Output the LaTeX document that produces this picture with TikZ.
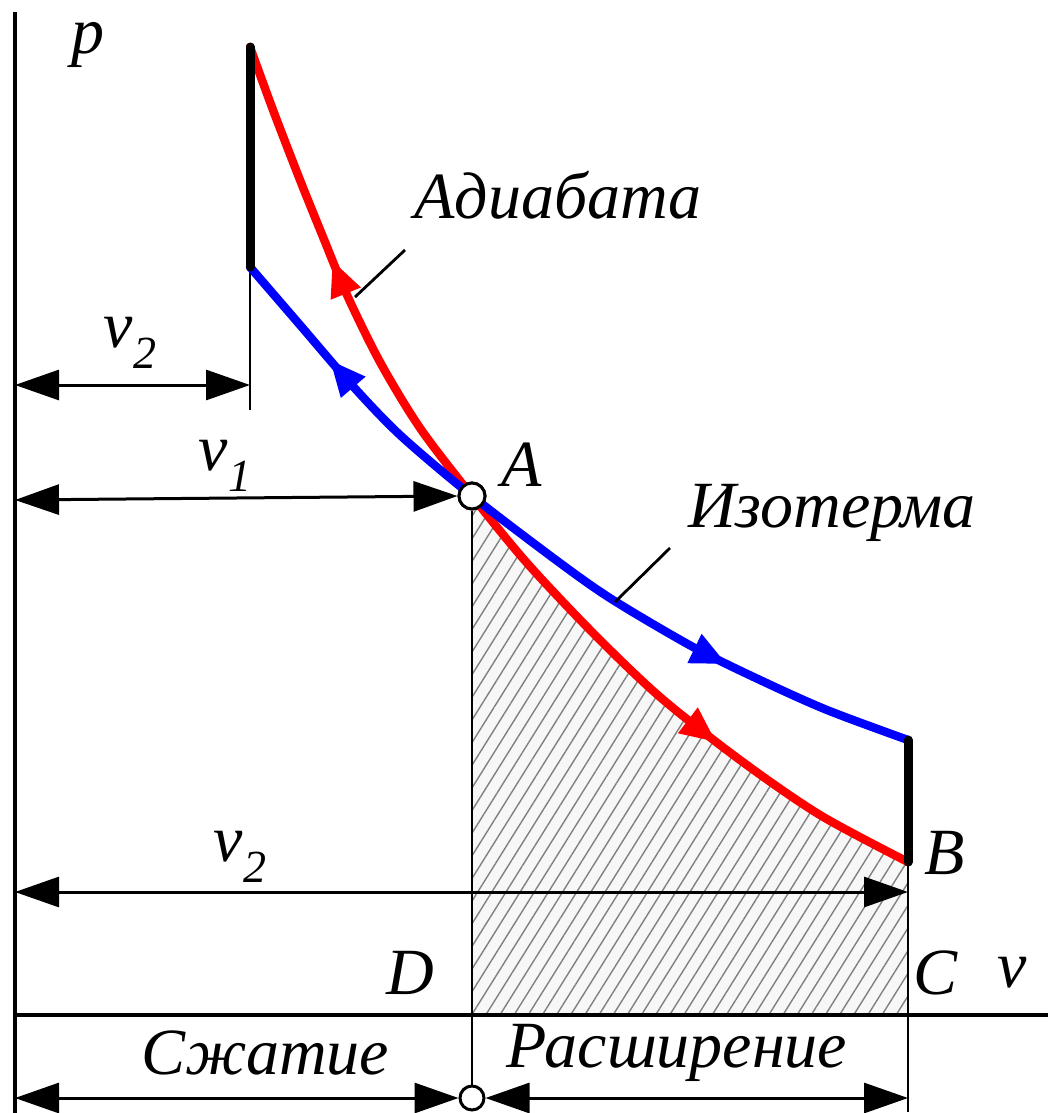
\documentclass[tikz,border=0pt]{standalone}
\usepackage{fontspec}
\setmainfont{Liberation Serif}
\newfontfamily\labelfont{Liberation Serif}[UprightFont={* Italic}]
\usetikzlibrary{arrows.meta,decorations.markings,patterns.meta}
\tikzset{
  lbl/.style={font=\labelfont\fontsize{33}{38}\selectfont,inner sep=0pt},
  axis/.style={line width=1.6pt},
  thinline/.style={line width=1.4pt},
  dimarrow/.style={line width=1.5pt,
    {Triangle[length=22pt,width=15pt]}-{Triangle[length=22pt,width=15pt]}},
  stroke/.style={line width=4.5pt,line cap=round},
  adiabat/.style={line width=4.2pt,red,line cap=round},
  isotherm/.style={line width=4.2pt,blue,line cap=round},
  flow/.style n args={2}{postaction={decorate},decoration={markings,
    mark=at position #1 with {\arrowreversed{Triangle[length=18pt,width=15pt]}},
    mark=at position #2 with {\arrow{Triangle[length=18pt,width=15pt]}}}},
  point/.style={circle,draw,fill=white,line width=1.5pt,inner sep=0pt}
}
\newcommand{\vsub}[1]{v\raisebox{-0.32em}{\fontsize{23}{23}\selectfont #1}}
\begin{document}
\begin{tikzpicture}[x=0.5pt,y=-0.5pt]
  \useasboundingbox (0,0) rectangle (1048,1113);
  % hatched work area under the adiabat
  \fill[gray!6] (472,1015) -- (472,496)
    -- plot[smooth] coordinates {(472,496) (527,563) (593,633) (660,697) (740,760) (820,815) (908,862)}
    -- (908,1015) -- cycle;
  \fill[pattern={Lines[angle=58,distance=6pt,line width=0.7pt]},pattern color=gray]
    (472,1015) -- (472,496)
    -- plot[smooth] coordinates {(472,496) (527,563) (593,633) (660,697) (740,760) (820,815) (908,862)}
    -- (908,1015) -- cycle;
  % axes
  \draw[axis] (15,12) -- (15,1113);
  \draw[axis] (15,1015) -- (1048,1015);
  \coordinate (top) at (250,47);
  \coordinate (iso1) at (250,267);
  \coordinate (iso2) at (908,740);
  \coordinate (B) at (908,862);
  \node[point,minimum size=13pt] (A) at (472,496) {};
  \node[point,minimum size=12pt] (O) at (472,1098) {};
  % extension lines
  \draw[thinline] (iso1) -- (250,410);
  \draw[thinline] (A.south) -- (O.north);
  \draw[thinline] (B) -- (908,1112);
  % curves, arrows point away from A
  \draw[adiabat,flow={0.212}{0.79}] (top)
    plot[smooth] coordinates {(250,47) (273,110) (300,180) (323,237) (347,295) (380,362)
      (420,428) (472,496) (527,563) (593,633) (660,697) (740,760) (820,815) (908,862)};
  \draw[isotherm,flow={0.149}{0.761}] (iso1)
    plot[smooth] coordinates {(250,267) (300,325) (350,383) (400,435) (472,496)
      (560,563) (613,600) (693,647) (760,680) (827,710) (908,740)};
  \node[point,minimum size=13pt] at (A) {};
  % constant volume strokes
  \draw[stroke] (top) -- (iso1);
  \draw[stroke] (iso2) -- (B);
  % dimensions
  \draw[dimarrow] (15,385) -- (250,385);
  \draw[dimarrow] (15,500) -- (A.west);
  \draw[dimarrow] (15,892) -- (908,892);
  \draw[dimarrow] (15,1098) -- (O.west);
  \draw[dimarrow] (O.east) -- (908,1098);
  % labels
  \node[lbl] (plbl) at (88,45) {p};
  \node[lbl] (v2top) at (130,343) {\vsub{2}};
  \node[lbl] (v1) at (225,466) {\vsub{1}};
  \node[lbl] (v2low) at (240,857) {\vsub{2}};
  \node[lbl] (Albl) at (522,465) {A};
  \node[lbl] (Blbl) at (945,853) {B};
  \node[lbl] (Dlbl) at (410,973) {D};
  \node[lbl] (Clbl) at (935,973) {C};
  \node[lbl] (vlbl) at (1012,973) {v};
  \node[lbl] (adi) at (558,195) {Адиабата};
  \node[lbl] (izo) at (832,513) {Изотерма};
  \node[lbl] (szh) at (265,1053) {Сжатие};
  \node[lbl] (ras) at (677,1053) {Расширение};
  % leaders
  \draw[thinline] (355,297) -- (405,250);
  \draw[thinline] (615,602) -- (670,548);
\end{tikzpicture}
\end{document}
